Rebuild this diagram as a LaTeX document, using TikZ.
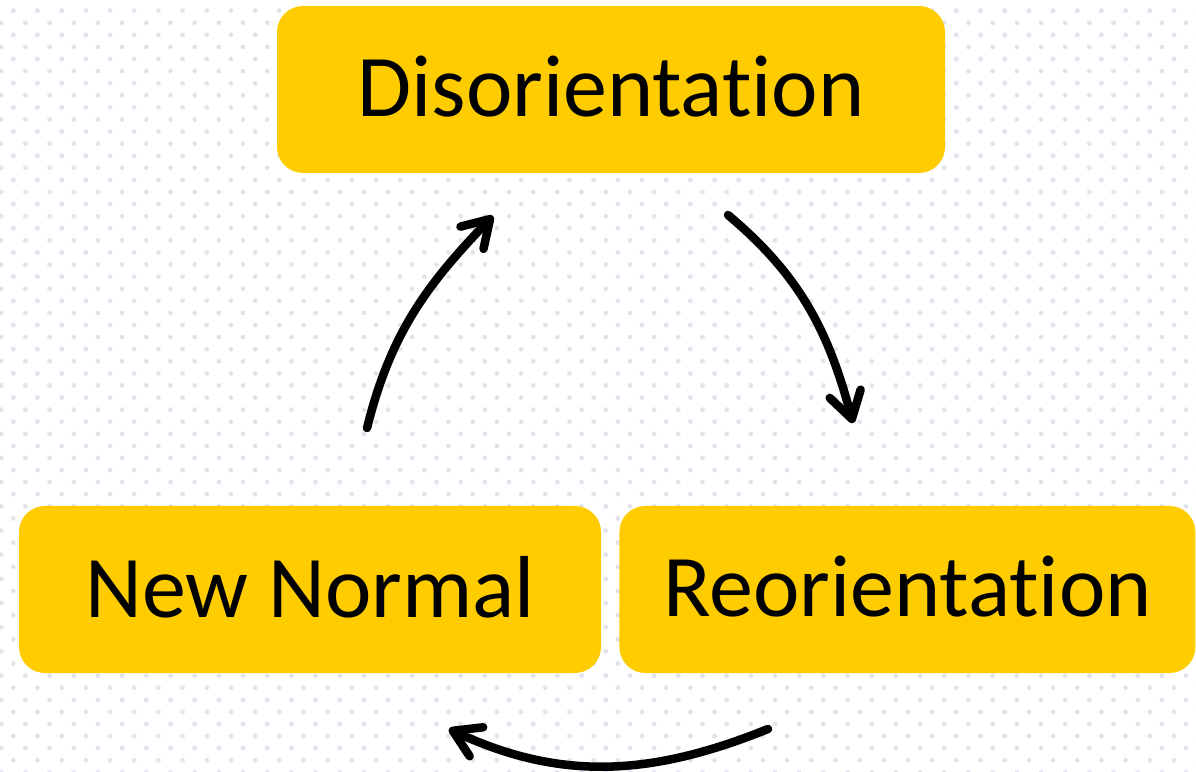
\documentclass[tikz,border=0pt]{standalone}
\usepackage{fontspec}
\setmainfont{Carlito}[Ligatures=NoCommon]
\usepackage{tikz}
\usetikzlibrary{positioning,arrows.meta}

\definecolor{stageyellow}{RGB}{255,204,0}
\definecolor{dotgrey}{RGB}{228,226,237}

\begin{document}
\begin{tikzpicture}[x=1pt, y=1pt,
    >={Straight Barb[length=26pt, width=32pt, round]},
    stage/.style={fill=stageyellow, rounded corners=26pt, minimum height=167pt,
        inner sep=0pt, text depth=6pt, font=\fontsize{88}{100}\selectfont},
    flow/.style={->, line width=8.5pt, line cap=round}]

        \useasboundingbox (0,0) rectangle (1196,771);
        \fill[white] (0,0) rectangle (1196,771);

        % dotted paper behind everything
        \foreach \i in {0,...,64} {
            \foreach \k in {0,...,50} {
                \fill[dotgrey] ({13.33+24.18*\k-12.09*mod(\i,2)}, {760.33-12.09*\i}) circle (2.4pt);
            }
        }

        % the three stages
        \node[stage, minimum width=668pt] (dis) at (611,681.5) {Disorientation};
        \node[stage, minimum width=582pt] (new) at (310,181.5) {New Normal};
        \node[stage, minimum width=576pt, right=18pt of new] (reo) {Reorientation};

        % free ends of the cycle arrows
        \coordinate (disout) at (728,556);
        \coordinate (reoin)  at (853,348);
        \coordinate (reoout) at (768,42);
        \coordinate (newin)  at (449,42);
        \coordinate (newout) at (367,343);
        \coordinate (disin)  at (493,555);

        % cycle arrows
        \draw[flow] (disout) to[out=-40, in=105] (reoin);
        \draw[flow] (reoout) to[out=-158, in=-25] (newin);
        \draw[flow] (newout) to[out=76, in=-134] (disin);

\end{tikzpicture}
\end{document}
